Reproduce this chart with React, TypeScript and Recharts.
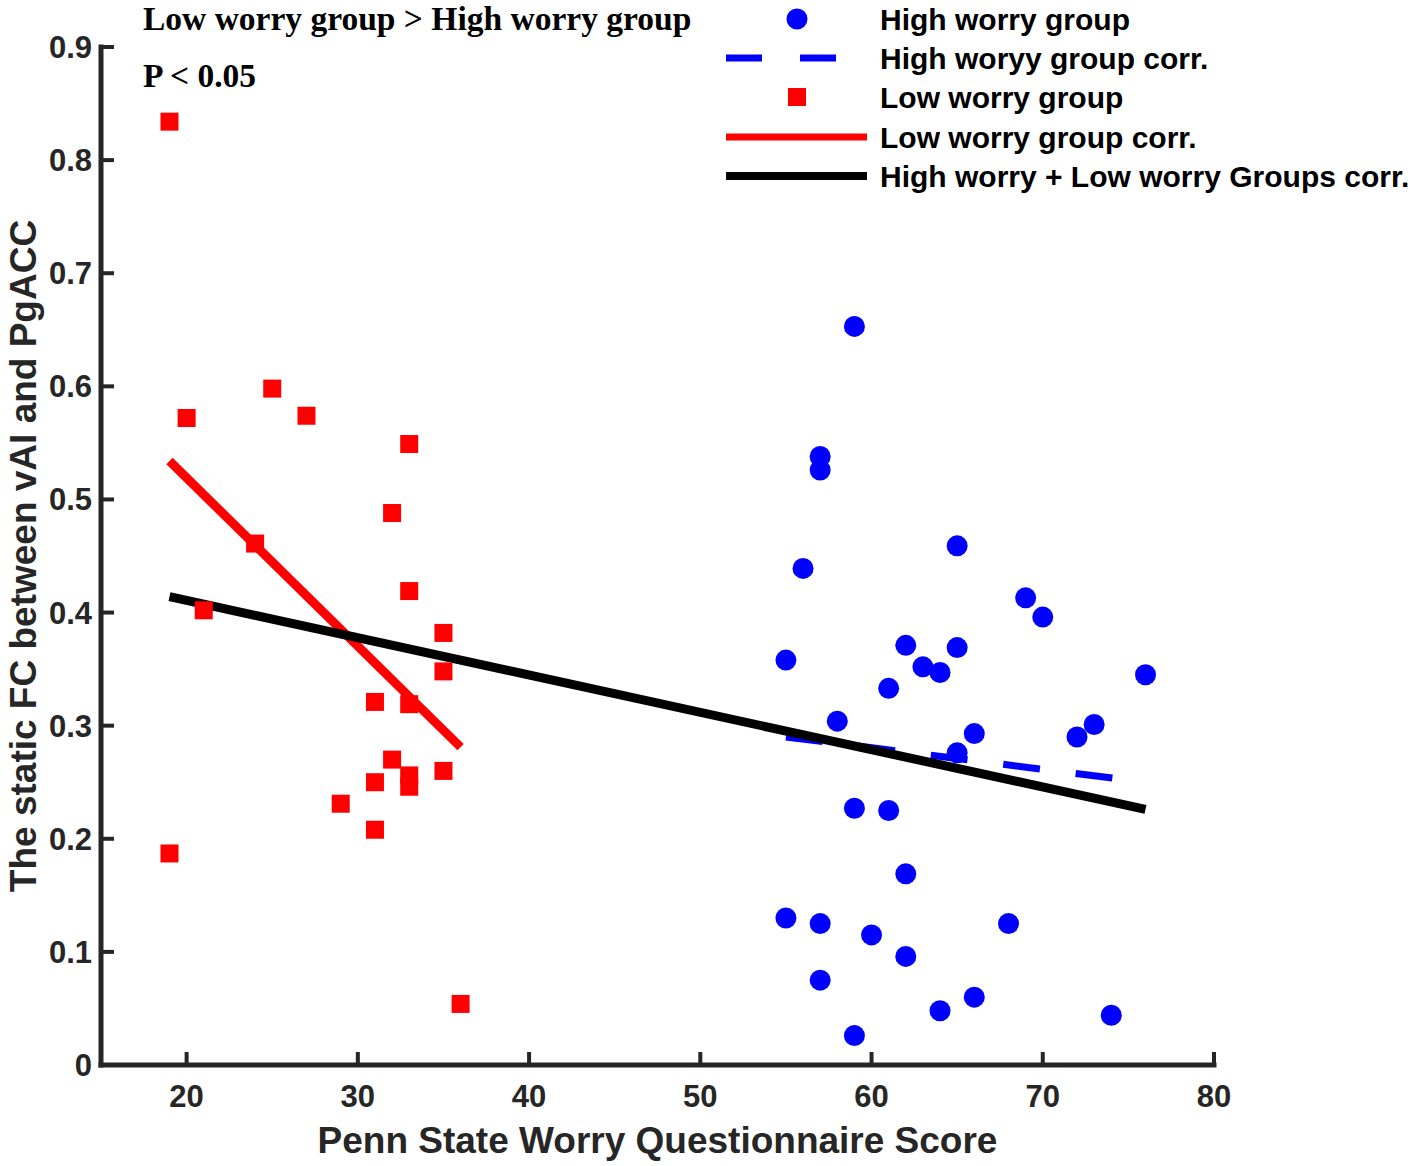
import React from "react";
import {
  ComposedChart,
  Scatter,
  Line,
  XAxis,
  YAxis,
  Legend,
} from "recharts";

// High worry group (blue circles)
const highX = [59, 57, 57, 65, 56, 69, 70, 62, 65, 55, 63, 64, 61, 76, 58, 66, 65, 72, 73, 59, 61, 62, 55, 57, 60, 68, 62, 57, 64, 66, 74, 59];
const highY = [0.653, 0.538, 0.526, 0.459, 0.439, 0.413, 0.396, 0.371, 0.369, 0.358, 0.352, 0.347, 0.333, 0.345, 0.304, 0.293, 0.276, 0.29, 0.301, 0.227, 0.225, 0.169, 0.13, 0.125, 0.115, 0.125, 0.096, 0.075, 0.048, 0.06, 0.044, 0.026];

// Low worry group (red squares)
const lowX = [19, 20, 25, 27, 33, 32, 24, 33, 21, 35, 35, 33, 31, 32, 31, 33, 33, 35, 29, 31, 19, 36];
const lowY = [0.834, 0.572, 0.598, 0.574, 0.549, 0.488, 0.461, 0.419, 0.402, 0.382, 0.348, 0.319, 0.321, 0.27, 0.25, 0.256, 0.246, 0.26, 0.231, 0.208, 0.187, 0.054];

// fitted lines (end points)
const highFitX = [55, 76];
const highFitY = [0.29, 0.25];
const lowFitX = [19, 36];
const lowFitY = [0.534, 0.281];
const allFitX = [19, 76];
const allFitY = [0.414, 0.226];

const xTicks = [20, 30, 40, 50, 60, 70, 80];
const yTicks = [0, 0.1, 0.2, 0.3, 0.4, 0.5, 0.6, 0.7, 0.8, 0.9];

const legendLabels = [
  "High worry group",
  "High woryy group corr.",
  "Low worry group",
  "Low worry group corr.",
  "High worry + Low worry Groups corr.",
];

const toPoints = (xs: number[], ys: number[]) => xs.map((x, i) => ({ x, y: ys[i] }));

const highData = toPoints(highX, highY);
const lowData = toPoints(lowX, lowY);
const highFit = toPoints(highFitX, highFitY);
const lowFit = toPoints(lowFitX, lowFitY);
const allFit = toPoints(allFitX, allFitY);

const BLUE = "#0000ff";
const RED = "#ff0000";
const AXIS = "#262626";
const SANS = "'Liberation Sans', Arial, sans-serif";
const SERIF = "'Liberation Serif', 'Times New Roman', serif";

const tickStyle = { fontSize: 31, fontWeight: 700, fill: AXIS, fontFamily: SANS };
const axisLabelStyle = { fontSize: 37, fontWeight: 700, fill: AXIS, fontFamily: SANS };

function Dot(props: any) {
  return <circle cx={props.cx} cy={props.cy} r={10.5} fill={BLUE} />;
}

function Square(props: any) {
  return <rect x={props.cx - 9} y={props.cy - 9} width={18} height={18} fill={RED} />;
}

function LegendBox() {
  const rowY = [19, 58, 97, 137, 176];
  return (
    <svg width={700} height={200} style={{ display: "block" }}>
      <circle cx={79} cy={rowY[0]} r={10.5} fill={BLUE} />
      <line x1={8} x2={44} y1={rowY[1]} y2={rowY[1]} stroke={BLUE} strokeWidth={7} />
      <line x1={82} x2={118} y1={rowY[1]} y2={rowY[1]} stroke={BLUE} strokeWidth={7} />
      <rect x={70} y={rowY[2] - 9} width={18} height={18} fill={RED} />
      <line x1={8} x2={149} y1={rowY[3]} y2={rowY[3]} stroke={RED} strokeWidth={7} />
      <line x1={8} x2={149} y1={rowY[4]} y2={rowY[4]} stroke="#000" strokeWidth={8} />
      {legendLabels.map((label, i) => (
        <text
          key={label}
          x={162}
          y={rowY[i] + 11}
          fontSize={30}
          fontWeight={700}
          fontFamily={SANS}
          fill="#000"
        >
          {label}
        </text>
      ))}
    </svg>
  );
}

export default function App() {
  return (
    <div style={{ position: "relative", width: 1418, height: 1166, background: "#fff" }}>
      <style>{"body{margin:0}"}</style>
      <ComposedChart
        width={1418}
        height={1166}
        margin={{ top: 47, right: 204, bottom: 0, left: 0 }}
      >
        <XAxis
          type="number"
          dataKey="x"
          domain={[15, 80]}
          ticks={xTicks}
          tick={tickStyle}
          tickSize={-13}
          tickMargin={33}
          tickLine={{ stroke: AXIS, strokeWidth: 4 }}
          axisLine={{ stroke: AXIS, strokeWidth: 5, strokeLinecap: "square" }}
          height={101}
          label={{
            value: "Penn State Worry Questionnaire Score",
            position: "insideBottom",
            offset: 13,
            style: axisLabelStyle,
          }}
        />
        <YAxis
          type="number"
          dataKey="y"
          domain={[0, 0.9]}
          ticks={yTicks}
          tick={tickStyle}
          tickSize={-13}
          tickMargin={22}
          tickLine={{ stroke: AXIS, strokeWidth: 4 }}
          axisLine={{ stroke: AXIS, strokeWidth: 5, strokeLinecap: "square" }}
          width={101}
          label={{
            value: "The static FC between vAI and PgACC",
            angle: -90,
            position: "insideLeft",
            offset: 23,
            style: { ...axisLabelStyle, textAnchor: "middle" },
          }}
        />
        <Legend
          verticalAlign="middle"
          align="center"
          layout="horizontal"
          wrapperStyle={{ top: 0, left: 718, width: 700 }}
          content={() => <LegendBox />}
        />
        <Scatter data={highData} shape={Dot} isAnimationActive={false} />
        <Scatter data={lowData} shape={Square} isAnimationActive={false} />
        <Line
          data={highFit}
          dataKey="y"
          stroke={BLUE}
          strokeWidth={7}
          strokeDasharray="37 36"
          dot={false}
          activeDot={false}
          type="linear"
          isAnimationActive={false}
        />
        <Line
          data={lowFit}
          dataKey="y"
          stroke={RED}
          strokeWidth={9}
          dot={false}
          activeDot={false}
          type="linear"
          isAnimationActive={false}
        />
        <Line
          data={allFit}
          dataKey="y"
          stroke="#000"
          strokeWidth={9}
          dot={false}
          activeDot={false}
          type="linear"
          isAnimationActive={false}
        />
      </ComposedChart>
      <svg
        width={720}
        height={100}
        style={{ position: "absolute", left: 0, top: 0, pointerEvents: "none" }}
      >
        <text x={143} y={30} fontSize={33.5} fontWeight={700} fontFamily={SERIF} fill="#000">
          {"Low worry group > High worry group"}
        </text>
        <text x={143} y={87} fontSize={33.5} fontWeight={700} fontFamily={SERIF} fill="#000">
          {"P < 0.05"}
        </text>
      </svg>
    </div>
  );
}
